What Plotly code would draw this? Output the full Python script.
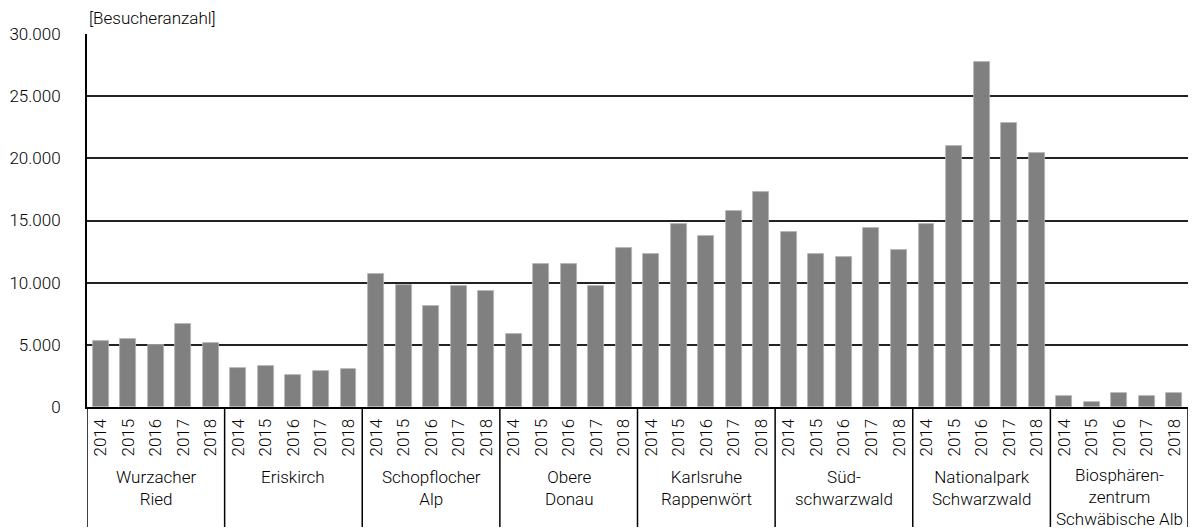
import plotly.graph_objects as go

# ---- data ----
years = ["2014", "2015", "2016", "2017", "2018"]
groups = [
    "Wurzacher\nRied",
    "Eriskirch",
    "Schopflocher\nAlp",
    "Obere\nDonau",
    "Karlsruhe\nRappenwört",
    "Süd-\nschwarzwald",
    "Nationalpark\nSchwarzwald",
    "Biosphären-\nzentrum\nSchwäbische Alb",
]
wurzacher_ried = [5300, 5500, 5000, 6650, 5120]
eriskirch = [3160, 3300, 2550, 2920, 3050]
schopflocher_alp = [10670, 9830, 8090, 9730, 9320]
obere_donau = [5840, 11470, 11470, 9750, 12780]
karlsruhe_rappenwoert = [12320, 14730, 13770, 15780, 17280]
suedschwarzwald = [14070, 12270, 12060, 14360, 12620]
nationalpark_schwarzwald = [14710, 21030, 27720, 22860, 20400]
biosphaerenzentrum = [880, 400, 1130, 910, 1130]
y_ticks = [0, 5000, 10000, 15000, 20000, 25000, 30000]
y_title = "[Besucheranzahl]"

series = [wurzacher_ried, eriskirch, schopflocher_alp, obere_donau,
          karlsruhe_rappenwoert, suedschwarzwald, nationalpark_schwarzwald,
          biosphaerenzentrum]

values = [v for s in series for v in s]
labels = years * len(groups)
n = len(values)
xpos = list(range(n))

FONT = "Roboto"
FS = 17
FW = 300

fig = go.Figure()
fig.add_trace(go.Bar(
    x=xpos, y=values, width=0.58,
    marker=dict(color="#808080", line=dict(color="#b4b4b4", width=0.8)),
    showlegend=False, hoverinfo="y",
))

label_bottom = -120 / 373

shapes = []
for g in range(len(groups) + 1):
    xb = g * len(years) - 0.5
    shapes.append(dict(type="line", xref="x", yref="paper",
                       x0=xb, x1=xb, y0=0, y1=label_bottom,
                       line=dict(color="black", width=1.5)))

annotations = []
for g, name in enumerate(groups):
    cx = g * len(years) + (len(years) - 1) / 2
    n_lines = name.count("\n") + 1
    top_px = 58 if n_lines < 3 else 56
    annotations.append(dict(
        x=cx, xref="x", y=-top_px / 373, yref="paper",
        text=name.replace("\n", "<br>"), showarrow=False,
        xanchor="center", yanchor="top", align="center",
        font=dict(family=FONT, size=FS, color="black", weight=FW),
    ))
annotations.append(dict(
    x=0, xref="paper", y=1.043, yref="paper", text=y_title,
    showarrow=False, xanchor="left", yanchor="middle",
    font=dict(family=FONT, size=17, color="black", weight=FW),
))

fig.update_layout(
    width=1193, height=529,
    margin=dict(l=87, r=5, t=34, b=122),
    paper_bgcolor="white", plot_bgcolor="white",
    separators=",.",
    font=dict(family=FONT, size=FS, color="black", weight=FW),
    shapes=shapes, annotations=annotations,
    bargap=0,
)
fig.update_xaxes(
    range=[-0.5, n - 0.5],
    tickmode="array", tickvals=xpos, ticktext=labels, tickangle=-90,
    ticks="outside", ticklen=3, tickcolor="rgba(0,0,0,0)",
    showline=True, linecolor="black", linewidth=2,
    showgrid=False, zeroline=False, automargin=False,
    tickfont=dict(family=FONT, size=FS, color="black", weight=FW),
)
fig.update_yaxes(
    range=[0, 30000], tickmode="array", tickvals=y_ticks,
    tickformat=",d",
    showgrid=True, gridcolor="#222222", gridwidth=1.5,
    showline=True, linecolor="black", linewidth=2,
    zeroline=False, automargin=False,
    ticks="outside", ticklen=21, tickcolor="rgba(0,0,0,0)",
    tickfont=dict(family=FONT, size=FS, color="black", weight=FW),
)

fig.write_html("out.html",
               config={"displayModeBar": False},
               post_script="document.body.style.margin='0';document.body.style.padding='0';")
